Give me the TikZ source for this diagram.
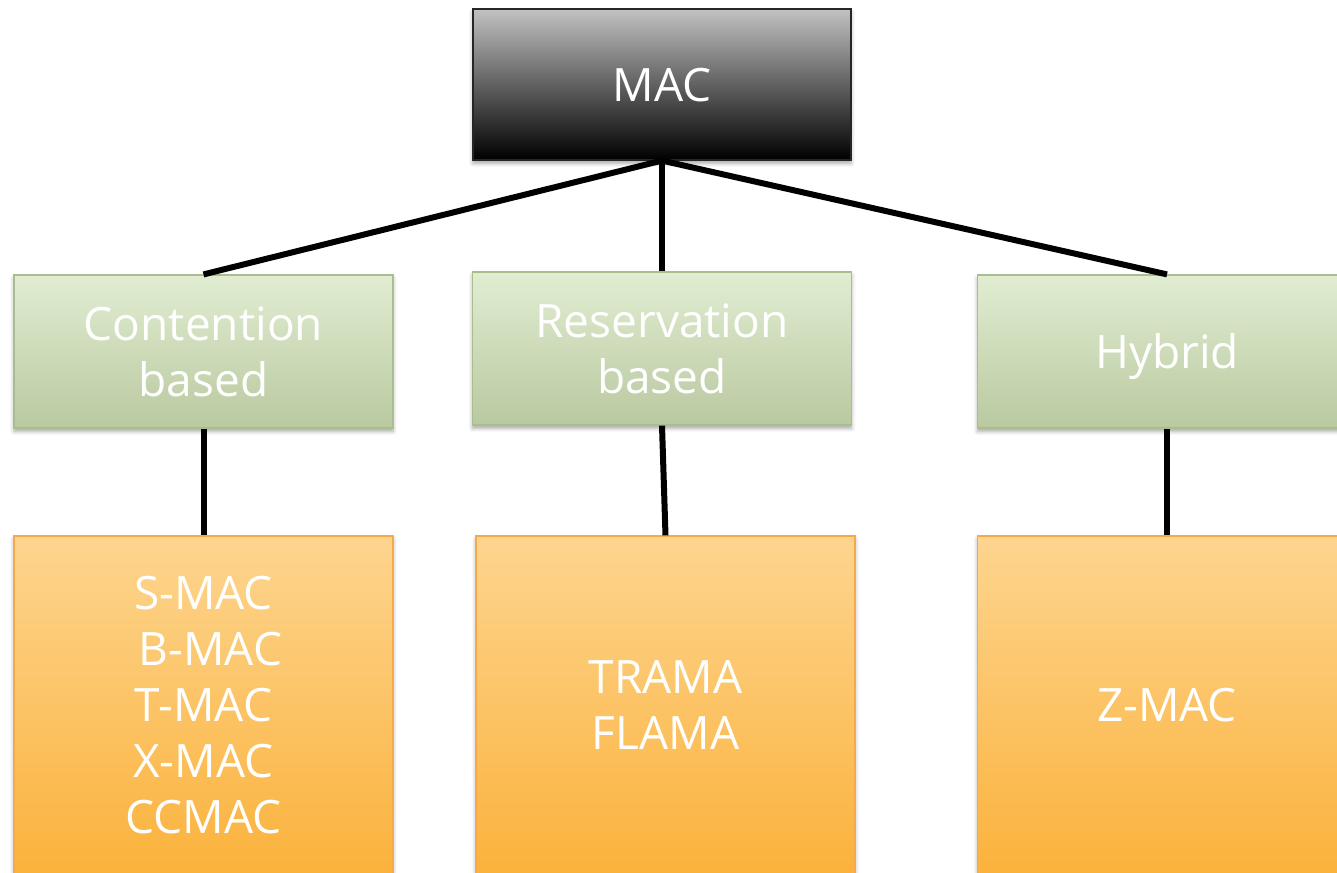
\documentclass[tikz,border=0pt]{standalone}
\usepackage{fontspec}
\setmainfont{Open Sans}
\usetikzlibrary{shadows.blur}
\begin{document}
\begin{tikzpicture}[x=0.75pt,y=-0.75pt,
  box/.style={rectangle, line width=0.9pt, inner sep=0pt, align=center,
    text=white, font=\fontsize{34.5}{42}\selectfont,
    blur shadow={shadow xshift=0pt, shadow yshift=-2.5pt,
      shadow blur radius=3pt, shadow opacity=35}},
  % a negative text depth lowers the text by half its size
  lower/.style={text depth=-#1},
  rootbox/.style={box, draw=black!85, top color=black!24, bottom color=black,
    minimum width=283.5pt, minimum height=113.25pt},
  classbox/.style={box, draw={rgb,255:red,170;green,190;blue,140},
    top color={rgb,255:red,225;green,237;blue,210},
    bottom color={rgb,255:red,185;green,201;blue,160},
    minimum width=284.25pt, minimum height=114.75pt},
  leafbox/.style={box, draw={rgb,255:red,247;green,168;blue,72},
    top color={rgb,255:red,253;green,213;blue,143},
    bottom color={rgb,255:red,251;green,178;blue,60},
    minimum width=284.25pt, minimum height=253.5pt},
  link/.style={line width=4.5pt, black}]
\useasboundingbox (0,0) rectangle (1337,872);
\clip (0,0) rectangle (1337,872);

% root
\node[rootbox, lower=7pt] (mac) at (662,84.5) {MAC};

% classes
\node[classbox, lower=3pt] (cont) at (203.5,351.5) {Contention\\based};
\node[classbox, lower=3pt] (resv) at (662,348.5) {Reservation\\based};
\node[classbox, lower=6pt] (hyb)  at (1167,351.5) {Hybrid};

% protocol lists
\node[leafbox] (lcont) at (203.5,705) {S-MAC\\\hspace*{0.3em}B-MAC\\T-MAC\\X-MAC\\CCMAC};
\node[leafbox] (lresv) at (665.5,705) {TRAMA\\FLAMA};
\node[leafbox] (lhyb)  at (1167,705) {Z-MAC};

% connectors
\draw[link] (mac.south) -- (cont.north);
\draw[link] (mac.south) -- (resv.north);
\draw[link] (mac.south) -- (hyb.north);
\draw[link] (cont.south) -- (lcont.north);
\draw[link] (resv.south) -- (lresv.north);
\draw[link] (hyb.south) -- (lhyb.north);
\end{tikzpicture}
\end{document}
